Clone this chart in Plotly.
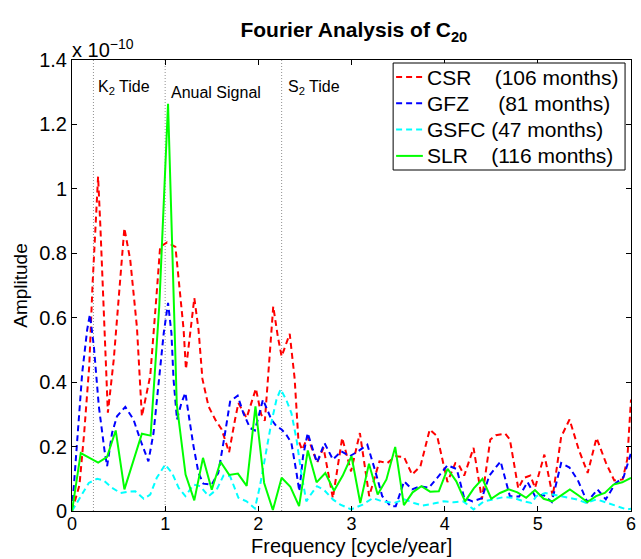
import plotly.graph_objects as go

# Amplitudes are in units of 1e-10
csr_f = [0, 0.08, 0.13, 0.185, 0.22, 0.28, 0.305, 0.34, 0.37, 0.385, 0.448, 0.52, 0.562, 0.625, 0.697, 0.75,
         0.84, 0.91, 0.946, 1.02, 1.11, 1.163, 1.198, 1.223, 1.27, 1.313, 1.358, 1.40, 1.465, 1.537, 1.607,
         1.686, 1.75, 1.786, 1.874, 1.974, 2.03, 2.07, 2.16, 2.21, 2.25, 2.29, 2.337, 2.39, 2.43, 2.47, 2.53,
         2.63, 2.70, 2.80, 2.90, 2.995, 3.09, 3.19, 3.30, 3.385, 3.475, 3.565, 3.65, 3.74, 3.84, 3.92, 4.03,
         4.115, 4.15, 4.21, 4.31, 4.40, 4.49, 4.55, 4.65, 4.70, 4.79, 4.85, 4.92, 4.97, 5.07, 5.16, 5.25, 5.34,
         5.44, 5.535, 5.63, 5.73, 5.82, 5.91, 5.96, 6.0]
csr_a = [0, 0.08, 0.24, 0.45, 0.70, 1.038, 0.88, 0.62, 0.37, 0.305, 0.47, 0.73, 0.878, 0.78, 0.57, 0.294,
         0.42, 0.68, 0.82, 0.834, 0.82, 0.666, 0.563, 0.44, 0.563, 0.661, 0.563, 0.41, 0.325, 0.284, 0.253,
         0.182, 0.284, 0.335, 0.289, 0.38, 0.30, 0.28, 0.635, 0.54, 0.48, 0.51, 0.55, 0.41, 0.22, 0.19, 0.23,
         0.15, 0.196, 0.04, 0.227, 0.123, 0.242, 0.046, 0.154, 0.149, 0.17, 0.167, 0.113, 0.139, 0.253, 0.232, 0.09,
         0.149, 0.144, 0.11, 0.196, 0.036, 0.222, 0.235, 0.24, 0.222, 0.07, 0.103, 0.11, 0.072, 0.175, 0.045, 0.23, 0.284,
         0.19, 0.118, 0.227, 0.15, 0.095, 0.098, 0.16, 0.346]

gfz_f = [0, 0.057, 0.11, 0.163, 0.192, 0.235, 0.288, 0.348, 0.377, 0.43, 0.483, 0.572, 0.66, 0.732, 0.82, 0.875,
         0.93, 0.985, 1.031, 1.067, 1.09, 1.127, 1.174, 1.217, 1.26, 1.305, 1.358, 1.41, 1.50, 1.57, 1.643, 1.697,
         1.778, 1.839, 1.91, 1.963, 2.05, 2.14, 2.195, 2.25, 2.30, 2.355, 2.41, 2.44, 2.48, 2.53, 2.586, 2.63, 2.71,
         2.80, 2.89, 2.98, 3.07, 3.17, 3.25, 3.33, 3.42, 3.475, 3.565, 3.65, 3.74, 3.83, 3.92, 4.03, 4.13, 4.21,
         4.30, 4.40, 4.48, 4.60, 4.70, 4.80, 4.89, 4.97, 5.06, 5.15, 5.25, 5.34, 5.43, 5.53, 5.64, 5.73, 5.83,
         5.92, 6.0]
gfz_a = [0, 0.21, 0.43, 0.563, 0.61, 0.51, 0.325, 0.19, 0.139, 0.242, 0.294, 0.323, 0.284, 0.222, 0.154, 0.242,
         0.41, 0.553, 0.646, 0.553, 0.408, 0.284, 0.335, 0.367, 0.284, 0.2, 0.118, 0.085, 0.082, 0.118, 0.242, 0.34,
         0.358, 0.304, 0.258, 0.25, 0.346, 0.284, 0.263, 0.253, 0.237, 0.211, 0.118, 0.061, 0.17, 0.242, 0.19, 0.15, 0.211,
         0.16, 0.185, 0.17, 0.185, 0.206, 0.129, 0.046, 0.015, 0.015, 0.092, 0.067, 0.077, 0.072, 0.103, 0.142, 0.13, 0.04,
         0.03, 0.04, 0.11, 0.154, 0.046, 0.045, 0.09, 0.046, 0.05, 0.028, 0.149, 0.135, 0.095, 0.028, 0.067, 0.036, 0.085,
         0.105, 0.18]

gsfc_f = [0, 0.092, 0.18, 0.27, 0.34, 0.43, 0.52, 0.61, 0.68, 0.77, 0.84, 0.91, 1.0, 1.074, 1.145, 1.217, 1.305,
          1.377, 1.465, 1.554, 1.626, 1.697, 1.786, 1.874, 1.963, 2.017, 2.07, 2.14, 2.195, 2.24, 2.30, 2.355, 2.41,
          2.46, 2.515, 2.55, 2.63, 2.71, 2.80, 2.88, 2.995, 3.12, 3.23, 3.33, 3.46, 3.565, 3.67, 3.76, 3.88, 3.99,
          4.10, 4.20, 4.31, 4.42, 4.52, 4.63, 4.74, 4.845, 4.93, 4.985, 5.08, 5.17, 5.27, 5.42, 5.52, 5.63, 5.75,
          5.86, 5.95, 6.0]
gsfc_a = [0, 0.046, 0.087, 0.10, 0.095, 0.072, 0.056, 0.06, 0.061, 0.038, 0.051, 0.103, 0.144, 0.118, 0.072, 0.046, 0.082,
          0.077, 0.046, 0.067, 0.11, 0.108, 0.041, 0.03, 0.008, 0.077, 0.165, 0.275, 0.346, 0.378, 0.345, 0.304, 0.222,
          0.12, 0.03, 0.046, 0.077, 0.064, 0.036, 0.02, 0.005, 0.02, 0.04, 0.03, 0.025, 0.036, 0.025, 0.017, 0.023, 0.03,
          0.027, 0.03, 0.005, 0.03, 0.036, 0.043, 0.041, 0.03, 0.025, 0.046, 0.056, 0.051, 0.046, 0.036, 0.025, 0.036, 0.025,
          0.015, 0.005, 0.007]

slr_f = [0.0, 0.094, 0.1875, 0.281, 0.375, 0.469, 0.5625, 0.656, 0.75, 0.844, 0.9375, 1.031, 1.125, 1.219, 1.3125,
         1.406, 1.5, 1.594, 1.6875, 1.781, 1.875, 1.969, 2.0625, 2.156, 2.25, 2.344, 2.4375, 2.531, 2.625, 2.719,
         2.8125, 2.906, 3.0, 3.094, 3.1875, 3.281, 3.375, 3.469, 3.5625, 3.656, 3.75, 3.844, 3.9375, 4.031, 4.125,
         4.219, 4.3125, 4.406, 4.5, 4.594, 4.6875, 4.781, 4.875, 4.969, 5.0625, 5.156, 5.25, 5.344, 5.4375, 5.531,
         5.625, 5.719, 5.8125, 5.906, 6.0]
slr_a = [0, 0.18, 0.165, 0.15, 0.167, 0.25, 0.067, 0.155, 0.24, 0.234, 0.64, 1.264, 0.33, 0.113, 0.033,
         0.165, 0.066, 0.153, 0.112, 0.116, 0.078, 0.325, 0.087, 0.003, 0.103, 0.075, 0.015, 0.188, 0.089, 0.118,
         0.063, 0.11, 0.17, 0.025, 0.147, 0.051, 0.098, 0.199, 0.018, 0.058, 0.077, 0.06, 0.061, 0.131, 0.092,
         0.03, 0.07, 0.10, 0.038, 0.056, 0.067, 0.058, 0.041, 0.065, 0.038, 0.03, 0.048, 0.067, 0.048, 0.028,
         0.046, 0.056, 0.082, 0.089, 0.103]

series_labels = ["CSR", "GFZ", "GSFC", "SLR"]
series_months = ["(106 months)", "(81 months)", "(47 months)", "(116 months)"]
label_gaps = [4, 5, 1, 4]  # spaces between name and months, as in the original legend
series_colors = ["#ff0000", "#0000ff", "#00ffff", "#00ff00"]
series_dash = ["6px,4px", "6px,4px", "6px,4px", "solid"]
series_x = [csr_f, gfz_f, gsfc_f, slr_f]
series_y = [csr_a, gfz_a, gsfc_a, slr_a]

tide_freqs = [0.23, 1.0, 2.25]
tide_labels = ["K<sub>2</sub> Tide", "Anual Signal", "S<sub>2</sub> Tide"]
tide_label_x = [0.26, 1.04, 2.3]
tide_label_y = [1.315, 1.30, 1.315]
y_ticks = [0, 0.2, 0.4, 0.6, 0.8, 1.0, 1.2, 1.4]
y_ticktext = ["0", "0.2", "0.4", "0.6", "0.8", "1", "1.2", "1.4"]
x_ticks = [0, 1, 2, 3, 4, 5, 6]

FONT = "Liberation Sans, Arial, Helvetica, sans-serif"
W, H = 641, 559
ML, MR, MT, MB = 72, 5, 60, 48
PW, PH = W - ML - MR, H - MT - MB


def px_to_paper(px, py):
    return (px - ML) / PW, (H - MB - py) / PH


fig = go.Figure()
for lab, months, g, col, dsh, xs, ys in zip(series_labels, series_months, label_gaps, series_colors,
                                             series_dash, series_x, series_y):
    fig.add_trace(go.Scatter(x=xs, y=ys, mode="lines", name=lab + "\u00a0" * g + months,
                             showlegend=False, line=dict(color=col, width=2, dash=dsh)))

for f in tide_freqs:
    fig.add_shape(type="line", xref="x", yref="y", x0=f, x1=f, y0=0, y1=1.4,
                  line=dict(color="#909090", width=1, dash="1px,2px"), layer="below")
for lab, lx, ly in zip(tide_labels, tide_label_x, tide_label_y):
    fig.add_annotation(x=lx, y=ly, xref="x", yref="y", text=lab, showarrow=False,
                       xanchor="left", yanchor="middle", font=dict(size=16, color="black", family=FONT))

# Legend box (drawn like the MATLAB legend)
bx0, by0 = px_to_paper(396, 170)
bx1, by1 = px_to_paper(630, 63)
fig.add_shape(type="rect", xref="paper", yref="paper", x0=bx0, y0=by0, x1=bx1, y1=by1,
              line=dict(color="black", width=1), fillcolor="white", layer="above")
for i, (lab, months, g, col, dsh) in enumerate(zip(series_labels, series_months, label_gaps,
                                                   series_colors, series_dash)):
    row_py = 77 + 26.3 * i
    lx0, ly = px_to_paper(399, row_py)
    lx1, _ = px_to_paper(426, row_py)
    fig.add_shape(type="line", xref="paper", yref="paper", x0=lx0, x1=lx1, y0=ly, y1=ly,
                  line=dict(color=col, width=2, dash=dsh), layer="above")
    tx, _ = px_to_paper(428, row_py)
    fig.add_annotation(x=tx, y=ly, xref="paper", yref="paper", text=lab + "\u00a0" * g + months,
                       showarrow=False, xanchor="left", yanchor="middle",
                       font=dict(size=21, color="black", family=FONT))

fig.add_annotation(x=0, y=1, xref="paper", yref="paper", text="x 10<sup>\u221210</sup>", showarrow=False,
                   xanchor="left", yanchor="bottom", yshift=-3, xshift=-2,
                   font=dict(size=20, color="black", family=FONT))

# x-axis title, placed like MATLAB's xlabel just under the tick labels
_, xt_y = px_to_paper(354, 546)
fig.add_annotation(x=0.5, y=xt_y, xref="paper", yref="paper", text="Frequency [cycle/year]",
                   showarrow=False, xanchor="center", yanchor="middle",
                   font=dict(size=20, color="black", family=FONT))

fig.update_layout(
    width=W, height=H,
    margin=dict(l=ML, r=MR, t=MT, b=MB),
    paper_bgcolor="white", plot_bgcolor="white",
    font=dict(family=FONT, color="black", size=20),
    title=dict(text="<b>Fourier Analysis of C<sub>20</sub></b>", x=0.552, xanchor="center",
               y=1 - 30 / 559, yanchor="middle", font=dict(size=21, family=FONT, color="black")),
    showlegend=False,
)
fig.update_xaxes(range=[0, 6], tickvals=x_ticks, ticks="inside", ticklen=5, tickcolor="black",
                 showline=True, linecolor="black", linewidth=1, mirror="ticks", showgrid=False,
                 zeroline=False, tickfont=dict(size=18), ticklabeloverflow="allow",
                 ticklabelstandoff=-4)
fig.update_yaxes(range=[0, 1.4], tickvals=y_ticks, ticktext=y_ticktext, ticks="inside", ticklen=5,
                 tickcolor="black", showline=True, linecolor="black", linewidth=1, mirror="ticks",
                 showgrid=False, zeroline=False, tickfont=dict(size=20),
                 title=dict(text="Amplitude", font=dict(size=19), standoff=6))

fig.write_html("out.html")
